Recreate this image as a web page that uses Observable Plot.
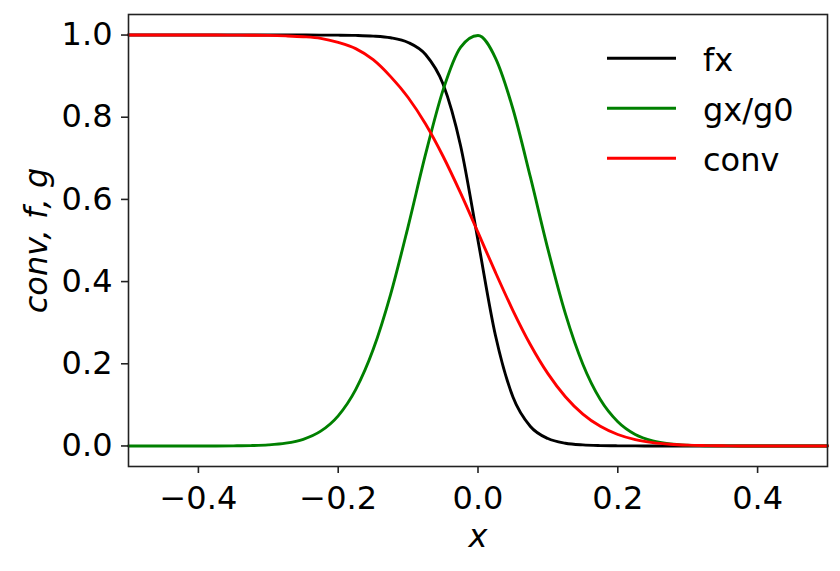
<!DOCTYPE html>
<html>
<head>
<meta charset="utf-8">
<script src="https://cdn.jsdelivr.net/npm/d3@7"></script>
<script src="https://cdn.jsdelivr.net/npm/@observablehq/plot@0.6"></script>
<style>
  html, body { margin: 0; padding: 0; background: #fff; }
  #wrap { position: relative; width: 840px; height: 571px; font-family: "DejaVu Sans", sans-serif; }
  #legend { position: absolute; left: 0; top: 0; pointer-events: none; }
</style>
</head>
<body>
<div id="wrap"></div>
<script>
// ---- data ----
const xs = [-0.5,-0.475,-0.45,-0.425,-0.4,-0.375,-0.35,-0.325,-0.3,-0.275,-0.25,-0.225,-0.2,-0.175,-0.15,-0.125,-0.1,-0.075,-0.05,-0.025,0,0.025,0.05,0.075,0.1,0.125,0.15,0.175,0.2,0.225,0.25,0.275,0.3,0.325,0.35,0.375,0.4,0.425,0.45,0.475,0.5];

const fx = [1,1,1,1,1,1,1,1,1,1,1,
  0.9999,0.9997,0.9991,0.9975,0.9933,0.982,0.9526,0.8808,0.7311,0.5,0.2689,0.1192,0.0474,0.018,0.0067,0.0025,0.0009,0.0003,
  0.0001,
  0,0,0,0,0,0,0,0,0,0,0];

const gx = [0,0,0,0,0,0,
  0.0003,0.0009,0.0026,0.0068,0.0163,0.036,0.0733,0.137,0.2345,0.369,0.534,0.71,0.866,0.97,0.999,0.944,0.82,0.654,0.479,0.322,0.199,0.113,0.059,0.028,0.0124,0.005,0.0019,0.0006,0.0002,
  0,0,0,0,0,0];

const conv = [1,1,1,1,1,1,
  0.9998,0.9996,0.9992,0.998,0.996,0.992,0.982,0.967,0.94,0.8988,0.848,0.7835,0.705,0.6157,0.5196,0.4223,0.3296,0.2463,0.1759,0.1198,0.0775,0.0478,0.0279,0.0155,0.0082,0.0041,0.0019,0.0009,0.0004,
  0,0,0,0,0,0];

const seriesNames = ["fx", "gx/g0", "conv"];
const seriesColors = ["#000000", "#008000", "#ff0000"];
const seriesValues = [fx, gx, conv];

const xTicks = [-0.4, -0.2, 0.0, 0.2, 0.4];
const yTicks = [0.0, 0.2, 0.4, 0.6, 0.8, 1.0];
const xLabel = "x";
const yLabel = "conv, f, g";

// ---- build table ----
const rows = [];
seriesNames.forEach((name, i) => {
  xs.forEach((x, j) => rows.push({x, y: seriesValues[i][j], series: name}));
});

const fmt = d3.format(".1f");
const FS = 32;

const chart = Plot.plot({
  width: 840,
  height: 571,
  marginLeft: 128,
  marginRight: 13,
  marginTop: 14,
  marginBottom: 105,
  style: {fontFamily: "DejaVu Sans", fontSize: FS + "px", background: "white", color: "black"},
  x: {domain: [-0.5, 0.5]},
  y: {domain: [-0.05, 1.05]},
  color: {domain: seriesNames, range: seriesColors},
  marks: [
    Plot.line(rows, {x: "x", y: "y", z: "series", stroke: "series", strokeWidth: 2.9, curve: "monotone-x"}),
    Plot.frame({stroke: "#222", strokeWidth: 1.6}),
    Plot.axisX({ticks: xTicks, tickSize: 7, tickPadding: 13, tickFormat: fmt, fontSize: FS, label: null, stroke: "#222", strokeWidth: 1.6, fill: "black"}),
    Plot.axisY({ticks: yTicks, tickSize: 7, tickPadding: 9, tickFormat: fmt, fontSize: FS, label: null, stroke: "#222", strokeWidth: 1.6, fill: "black"}),
    Plot.text([xLabel], {frameAnchor: "bottom", dy: 70, text: d => d, fontSize: FS, fontStyle: "italic", lineAnchor: "middle", fill: "black"}),
    Plot.text([yLabel], {frameAnchor: "left", dx: -92, dy: 0, text: d => d, rotate: -90, fontSize: FS, fontStyle: "italic", lineAnchor: "middle", textAnchor: "middle", fill: "black"})
  ]
});

const wrap = document.getElementById("wrap");
wrap.appendChild(chart);

// ---- legend overlay ----
const leg = d3.select(wrap).append("svg")
  .attr("id", "legend")
  .attr("width", 840).attr("height", 571);
const legX0 = 607, legX1 = 676, legTextX = 703, legY0 = 58.3, legDY = 50;
seriesNames.forEach((name, i) => {
  const y = legY0 + i * legDY;
  leg.append("line")
    .attr("x1", legX0).attr("x2", legX1).attr("y1", y).attr("y2", y)
    .attr("stroke", seriesColors[i]).attr("stroke-width", 2.9);
  leg.append("text")
    .attr("x", legTextX).attr("y", y + 12.5)
    .attr("font-family", "DejaVu Sans").attr("font-size", FS)
    .attr("fill", "black")
    .text(name);
});
</script>
</body>
</html>
